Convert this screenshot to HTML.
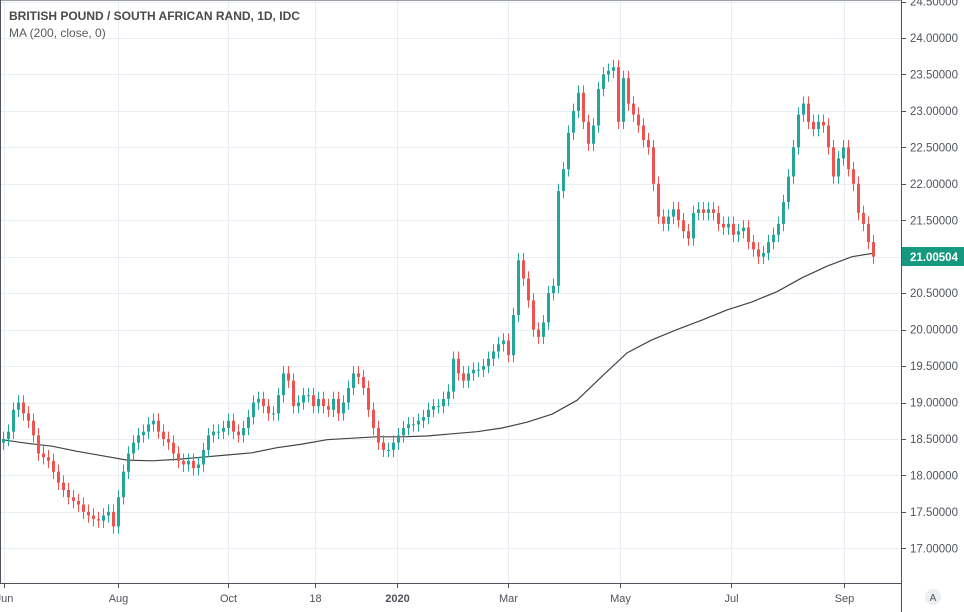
<!DOCTYPE html>
<html><head><meta charset="utf-8"><style>
body{margin:0;background:#fff;width:964px;height:612px;overflow:hidden;font-family:"Liberation Sans",sans-serif}
svg{display:block}
</style></head><body>
<svg id="chart" width="964" height="612" xmlns="http://www.w3.org/2000/svg">
<g id="grid"></g>
<g id="ma"></g>
<g id="candles"></g>
<rect x="901" y="0" width="63" height="612" fill="#fff"/>
<rect x="0" y="583" width="901" height="29" fill="#fff"/>
<line x1="901.5" y1="0" x2="901.5" y2="612" stroke="#50535e" stroke-width="1"/>
<line x1="0" y1="583.5" x2="901" y2="583.5" stroke="#50535e" stroke-width="1"/>
<line x1="0" y1="0.5" x2="901" y2="0.5" stroke="#9aa0a6" stroke-width="1"/>
<line x1="0.5" y1="0" x2="0.5" y2="583" stroke="#50535e" stroke-width="1"/>
<g id="yticks"></g>
<g id="xticks"></g>
<g>
<rect x="902" y="247" width="62" height="19" fill="#14997f"/>
<text x="910" y="261" font-size="11.5" font-weight="bold" fill="#fff">21.00504</text>
</g>
<g>
<circle cx="933" cy="597" r="8" fill="#eceff2"/>
<text x="933" y="601" font-size="10" fill="#50535e" text-anchor="middle">A</text>
</g>
<text x="9" y="20" font-size="12" font-weight="bold" fill="#4a4a4a">BRITISH POUND / SOUTH AFRICAN RAND, 1D, IDC</text>
<text x="9" y="37" font-size="12" fill="#5a5a5a">MA (200, close, 0)</text>
</svg>
<script>
const closes=[18.5,18.6,18.9,19.0,18.85,18.75,18.55,18.3,18.25,18.2,18.05,17.9,17.8,17.7,17.65,17.6,17.5,17.45,17.4,17.38,17.45,17.5,17.3,17.7,18.05,18.3,18.45,18.55,18.6,18.7,18.75,18.6,18.5,18.45,18.3,18.2,18.15,18.2,18.1,18.15,18.35,18.55,18.6,18.6,18.65,18.75,18.6,18.55,18.65,18.8,19.0,19.05,18.95,18.85,18.85,19.1,19.4,19.3,18.95,19.0,19.1,19.1,18.95,19.05,18.95,18.9,19.05,18.85,19.0,19.2,19.4,19.35,19.2,18.9,18.65,18.45,18.35,18.35,18.45,18.55,18.65,18.7,18.7,18.75,18.8,18.9,18.95,18.95,19.05,19.15,19.6,19.4,19.3,19.4,19.45,19.45,19.5,19.6,19.7,19.8,19.85,19.65,20.2,20.95,20.7,20.4,20.0,19.9,20.1,20.5,20.6,21.9,22.2,22.7,23.0,23.25,22.85,22.55,22.8,23.3,23.5,23.55,23.6,22.85,23.45,23.1,22.95,22.8,22.6,22.5,22.0,21.55,21.45,21.55,21.65,21.5,21.35,21.25,21.6,21.65,21.6,21.65,21.6,21.45,21.4,21.45,21.3,21.35,21.4,21.2,21.1,21.0,21.05,21.2,21.3,21.45,21.75,22.1,22.5,22.95,23.1,22.85,22.75,22.85,22.8,22.5,22.1,22.35,22.5,22.2,22.0,21.6,21.45,21.2,21.0];
const maValues=[18.49,18.44,18.40,18.33,18.27,18.21,18.20,18.22,18.25,18.28,18.31,18.38,18.43,18.49,18.51,18.53,18.53,18.54,18.57,18.60,18.65,18.73,18.84,19.03,19.36,19.68,19.86,20.0,20.13,20.27,20.38,20.52,20.71,20.87,21.0,21.05];
const priceTicks=[17.0,17.5,18.0,18.5,19.0,19.5,20.0,20.5,21.0,21.5,22.0,22.5,23.0,23.5,24.0,24.5];
const timeLabels=["Jun","Aug","Oct","18","2020","Mar","May","Jul","Sep"];
const timeTickIdx=[0.4,23.2,45.2,62.6,79,101.2,123.6,145.8,168.4];
const NS="http://www.w3.org/2000/svg";
const y=v=>38+(24-v)*72.9;
const x=i=>2+i*5;
function mk(tag,attrs,parent){const e=document.createElementNS(NS,tag);for(const k in attrs)e.setAttribute(k,attrs[k]);parent.appendChild(e);return e;}
const grid=document.getElementById('grid'),yt=document.getElementById('yticks'),xt=document.getElementById('xticks');
priceTicks.forEach(p=>{
  const gl=mk('line',{x1:0,x2:901,y1:Math.round(y(p))+0.5,y2:Math.round(y(p))+0.5,stroke:'#e8eef3'},grid);
  
  
  const t=mk('text',{x:910,y:y(p)+4,'font-size':11.5,fill:'#50535e'},yt);
  
  
  t.textContent=p.toFixed(5);
  mk('line',{x1:901,x2:906,y1:Math.round(y(p))+0.5,y2:Math.round(y(p))+0.5,stroke:'#50535e'},yt);
});
timeLabels.forEach((l,k)=>{
  const xx=Math.round(x(timeTickIdx[k]))+0.5;
  const gl=mk('line',{x1:xx,x2:xx,y1:0,y2:583,stroke:'#e8eef3'},grid);
  
  
  mk('line',{x1:xx,x2:xx,y1:583,y2:588,stroke:'#50535e'},xt);
  const t=mk('text',{x:xx,y:602,'font-size':11,fill:'#50535e','text-anchor':'middle'},xt);
  
  
  if(l==='2020')t.setAttribute('font-weight','bold');
  t.textContent=l;
});
const cg=document.getElementById('candles');
closes.forEach((c,i)=>{
  const o=i===0?c-0.05:closes[i-1];
  const up=c>=o, col=up?'#26a69a':'#ef5350';
  const hi=Math.max(o,c)+0.1, lo=Math.min(o,c)-0.1;
  const g=mk('g',{},cg);
  
  
  mk('line',{x1:x(i)+1.5,x2:x(i)+1.5,y1:y(hi),y2:y(lo),stroke:col,'stroke-width':1},g);
  mk('rect',{x:x(i),y:y(Math.max(o,c)),width:3,height:Math.max(1,Math.abs(y(o)-y(c))),fill:col},g);
});
const mg=document.getElementById('ma');
const pts=maValues.map((v,k)=>Math.min(x(k*5),874)+','+y(v).toFixed(1)).join(' ');
const pl=mk('polyline',{points:pts,fill:'none',stroke:'#444','stroke-width':1.2,'stroke-linejoin':'round'},mg);


</script>
</body></html>
